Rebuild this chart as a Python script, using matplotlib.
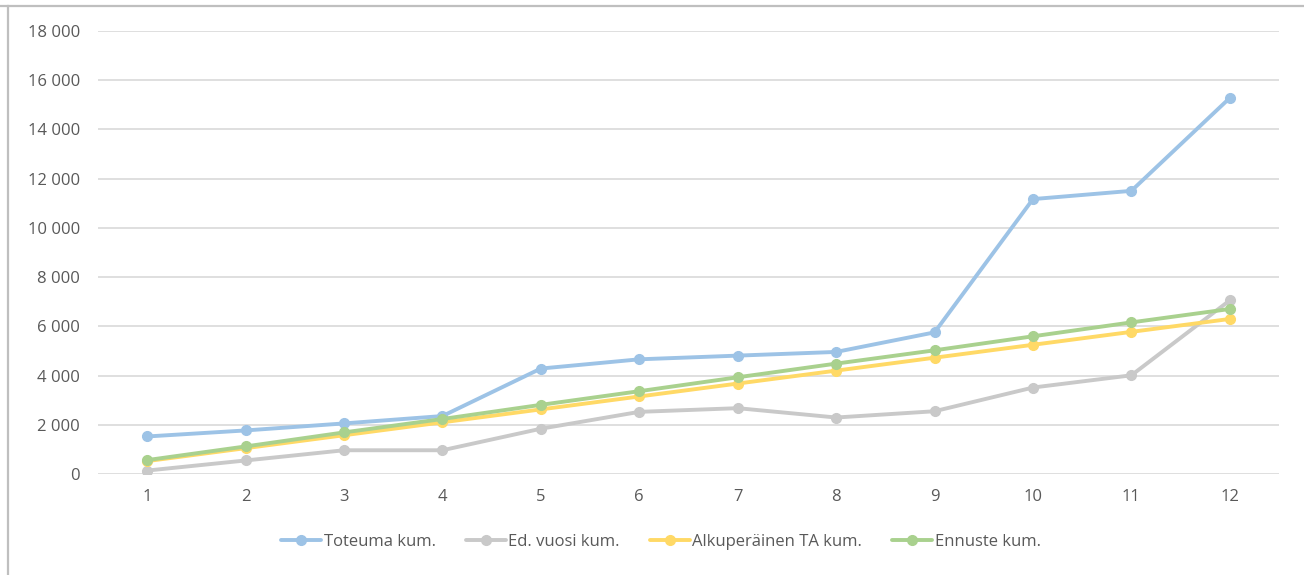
import numpy as np
import matplotlib.pyplot as plt
from matplotlib.lines import Line2D
from matplotlib.ticker import FuncFormatter

plt.rcParams['font.family'] = ['Open Sans', 'DejaVu Sans']

# Months and cumulative series
months = [1, 2, 3, 4, 5, 6, 7, 8, 9, 10, 11, 12]
toteuma = [1525, 1770, 2055, 2355, 4285, 4660, 4810, 4960, 5755, 11170, 11505, 15280]
ed_vuosi = [140, 550, 965, 965, 1840, 2525, 2675, 2295, 2550, 3513, 4010, 7055]
alkuperainen = [525, 1050, 1575, 2100, 2625, 3150, 3675, 4200, 4725, 5250, 5775, 6300]
ennuste = [565, 1120, 1690, 2235, 2810, 3365, 3930, 4485, 5025, 5595, 6160, 6705]

labels = ['Toteuma kum.', 'Ed. vuosi kum.', 'Alkuperäinen TA kum.', 'Ennuste kum.']
colors = ['#9DC3E6', '#C9C9C9', '#FFD966', '#A9D18E']
series = [toteuma, ed_vuosi, alkuperainen, ennuste]

fig = plt.figure(figsize=(13.04, 5.75), dpi=100)
ax = fig.add_axes([98 / 1304, 1 - 474 / 575, (1279 - 98) / 1304, (474 - 31) / 575])

x = np.arange(len(months))
for vals, c, lab in zip(series, colors, labels):
    ax.plot(x, vals, color=c, lw=2.8, marker='o', markersize=7, label=lab,
            solid_capstyle='round', zorder=3)

ax.set_xlim(-0.5, len(months) - 0.5)
ax.set_ylim(0, 18000)
ax.set_yticks(np.arange(0, 18001, 2000))
ax.yaxis.set_major_formatter(FuncFormatter(lambda v, p: f'{int(v):,}'.replace(',', ' ')))
ax.set_xticks(x)
ax.set_xticklabels([str(m) for m in months])

ax.grid(axis='y', color='#D9D9D9', lw=1.2, zorder=0)
for s in ax.spines.values():
    s.set_visible(False)
ax.tick_params(axis='both', length=0, labelsize=12, colors='#595959')
ax.tick_params(axis='y', pad=13)
ax.tick_params(axis='x', pad=11)

fig.legend(loc='center', bbox_to_anchor=(661 / 1304, 1 - 542 / 575), ncol=4,
           frameon=False, fontsize=12, handlelength=2.4, handletextpad=0.15,
           columnspacing=1.8, labelcolor='#595959')

# Outer frame lines (top and left)
fig.add_artist(Line2D([0, 1], [1 - 6 / 575, 1 - 6 / 575], color='#BFBFBF', lw=1.6,
                      transform=fig.transFigure))
fig.add_artist(Line2D([7.5 / 1304, 7.5 / 1304], [0, 1 - 6 / 575], color='#BFBFBF', lw=1.6,
                      transform=fig.transFigure))

fig.savefig('out.png', dpi=100)
